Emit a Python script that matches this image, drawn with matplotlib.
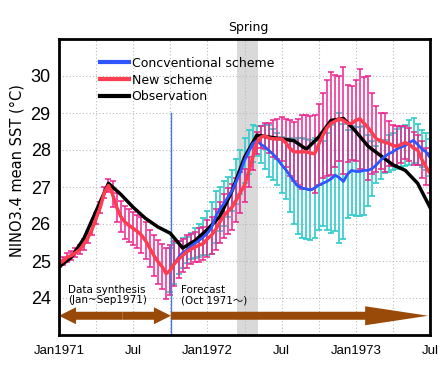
import numpy as np
import matplotlib
matplotlib.use("Agg")
import matplotlib.pyplot as plt
import matplotlib.patches as mpatches
from matplotlib.lines import Line2D

# ---------------- data ----------------
steps_per_month = 3
x_tick_labels = ["Jan1971", "Jul", "Jan1972", "Jul", "Jan1973", "Jul"]
y_ticks = [24, 25, 26, 27, 28, 29, 30]

# observation (monthly, Jan1971 .. Jul1973)
obs = [24.84, 25.10, 25.60, 26.35, 27.10, 26.80, 26.45, 26.15, 25.92, 25.75,
       25.35, 25.55, 25.85, 26.20, 26.90, 27.80, 28.40, 28.35, 28.30, 28.25,
       28.02, 28.35, 28.80, 28.85, 28.50, 28.10, 27.85, 27.60, 27.45, 27.10,
       26.45]

# new scheme (3 values per month, Jan1971 .. Jul1973)
new_mean = [24.93, 25.00, 25.10, 25.15, 25.22, 25.30, 25.45, 25.62, 25.85, 26.15,
            26.45, 26.85, 27.04, 26.80, 26.45, 26.20, 26.05, 25.96, 25.88, 25.80,
            25.70, 25.55, 25.35, 25.15, 24.98, 24.85, 24.66, 24.75, 24.93, 25.05,
            25.15, 25.25, 25.32, 25.38, 25.43, 25.47, 25.60, 25.70, 25.85, 26.05,
            26.22, 26.35, 26.46, 26.65, 26.85, 27.05, 27.40, 27.80, 28.20, 28.35,
            28.38, 28.32, 28.30, 28.30, 28.30, 28.20, 28.05, 27.95, 27.95, 27.95,
            27.95, 27.92, 27.90, 28.15, 28.40, 28.60, 28.72, 28.78, 28.84, 28.80,
            28.72, 28.72, 28.80, 28.84, 28.72, 28.60, 28.45, 28.30, 28.25, 28.21,
            28.18, 28.12, 28.10, 28.15, 28.20, 28.15, 28.05, 28.00, 27.75, 27.55,
            27.38]
new_err = [0.10, 0.10, 0.12, 0.12, 0.12, 0.12, 0.14, 0.14, 0.15, 0.15,
           0.15, 0.15, 0.18, 0.35, 0.40, 0.42, 0.45, 0.45, 0.45, 0.45,
           0.48, 0.50, 0.50, 0.55, 0.60, 0.62, 0.70, 0.68, 0.60, 0.50,
           0.45, 0.45, 0.40, 0.40, 0.45, 0.45, 0.50, 0.50, 0.55, 0.55,
           0.60, 0.62, 0.62, 0.60, 0.55, 0.45, 0.40, 0.35, 0.30, 0.30,
           0.35, 0.40, 0.50, 0.55, 0.60, 0.65, 0.75, 0.80, 0.90, 1.00,
           1.00, 1.00, 1.05, 1.10, 1.15, 1.30, 1.40, 1.25, 1.15, 1.45,
           1.05, 1.00, 1.10, 1.35, 1.25, 1.40, 1.10, 0.90, 0.75, 0.80,
           0.60, 0.55, 0.55, 0.50, 0.45, 0.45, 0.45, 0.40, 0.50, 0.50,
           0.55]

# conventional scheme (3 values per month, Oct1971 .. Jul1973)
conv_start_step = 27
conv_mean = [24.75, 24.93, 25.10, 25.22, 25.30, 25.40, 25.48, 25.56, 25.65, 25.75,
             25.90, 26.20, 26.40, 26.55, 26.73, 26.90, 27.15, 27.40, 27.72, 27.95,
             28.17, 28.25, 28.15, 28.08, 27.98, 27.88, 27.75, 27.60, 27.47, 27.32,
             27.15, 27.02, 26.97, 26.95, 26.92, 26.97, 27.05, 27.10, 27.15, 27.22,
             27.32, 27.25, 27.15, 27.35, 27.45, 27.42, 27.42, 27.45, 27.45, 27.50,
             27.60, 27.72, 27.82, 27.90, 27.95, 28.03, 28.08, 28.12, 28.20, 28.26,
             28.15, 28.03, 27.95, 27.80]
conv_err = [0.60, 0.55, 0.45, 0.40, 0.35, 0.35, 0.40, 0.45, 0.50, 0.60,
            0.70, 0.70, 0.60, 0.60, 0.55, 0.55, 0.60, 0.60, 0.60, 0.60,
            0.50, 0.40, 0.50, 0.60, 0.70, 0.70, 0.70, 0.75, 0.80, 1.00,
            1.15, 1.30, 1.35, 1.35, 1.35, 1.35, 1.20, 1.15, 1.30, 1.45,
            1.50, 1.75, 1.55, 1.20, 1.20, 1.20, 1.20, 1.20, 0.95, 0.75,
            0.50, 0.50, 0.45, 0.50, 0.50, 0.55, 0.55, 0.55, 0.60, 0.60,
            0.55, 0.50, 0.50, 0.50]

# ---------------- derived x positions (months since Jan1971) ----------------
t_new = np.arange(len(new_mean)) / steps_per_month
t_conv = (conv_start_step + np.arange(len(conv_mean))) / steps_per_month
t_obs = np.arange(len(obs))

# ---------------- styles ----------------
C_BLUE = "#2f55ff"
C_RED = "#ff3d50"
C_MAG = "#ee1e8c"
C_CYAN = "#2ecbcb"
C_BROWN = "#9a4a08"

W, H = 447, 374
fig = plt.figure(figsize=(W / 100, H / 100), dpi=100)
ax = fig.add_axes([59 / W, 1 - 335 / H, (430 - 59) / W, (335 - 39) / H])

ax.set_xlim(0, 30)
ax.set_ylim(23, 31)

# spring shading
ax.axvspan(14.4, 16.1, color="#d9d9d9", zorder=0, lw=0)

# grid
ax.set_xticks(np.arange(0, 31, 3))
ax.set_yticks(y_ticks)
ax.grid(True, color="#bbbbbb", linestyle=(0, (1, 2)), linewidth=0.8, zorder=0.5)
ax.set_xticklabels([x_tick_labels[i // 2] if i % 2 == 0 else "" for i in range(11)])
ax.tick_params(length=0, pad=7)
for lab in ax.get_xticklabels():
    lab.set_fontfamily("Liberation Sans")
    lab.set_fontsize(9.5)
for lab in ax.get_yticklabels():
    lab.set_fontfamily("Liberation Sans")
    lab.set_fontsize(13)
ax.tick_params(axis="y", pad=6)

# error bars
ax.errorbar(t_conv, conv_mean, yerr=conv_err, fmt="none", ecolor=C_CYAN,
            elinewidth=1.2, capsize=2.5, capthick=1.2, zorder=2)
ax.errorbar(t_new, new_mean, yerr=new_err, fmt="none", ecolor=C_MAG,
            elinewidth=1.2, capsize=2.5, capthick=1.2, alpha=0.9, zorder=2.5)

# lines
ax.plot(t_obs, obs, color="black", lw=2.5, zorder=4, solid_joinstyle="round")
ax.plot(t_conv, conv_mean, color=C_BLUE, lw=2.0, zorder=4.5)
ax.plot(t_new, new_mean, color=C_RED, lw=2.5, zorder=5)

# forecast start line
ax.plot([9.05, 9.05], [23, 29], color="#4a7fd0", lw=1, zorder=3)

# arrows
ypx = (335 - 39) / 8.0
xpx = (430 - 59) / 30.0
ay = 23.52
shaft = 8 / ypx
for x0, dx in [(5.15, -5.15), (5.15, 3.9)]:
    ax.add_patch(mpatches.FancyArrow(x0, ay, dx, 0, width=shaft,
                                     head_width=17 / ypx, head_length=17 / xpx,
                                     length_includes_head=True, color=C_BROWN,
                                     lw=0, zorder=3))
ax.add_patch(mpatches.FancyArrow(9.05, ay, 29.85 - 9.05, 0, width=shaft,
                                 head_width=19 / ypx, head_length=63 / xpx,
                                 length_includes_head=True, color=C_BROWN,
                                 lw=0, zorder=3))

# annotations
ax.text(0.75, 24.08, "Data synthesis\n(Jan~Sep1971)", fontsize=7.5,
        va="center", ha="left", linespacing=1.1, zorder=6)
ax.text(9.9, 24.08, "Forecast\n(Oct 1971～)", fontsize=7.5,
        va="center", ha="left", linespacing=1.1, zorder=6,
        family=["DejaVu Sans", "Noto Sans CJK JP"])

# spines
for s in ax.spines.values():
    s.set_linewidth(2)
    s.set_color("black")
    s.set_zorder(7)

# title over spring
fig.text(248 / W, 1 - 27 / H, "Spring", ha="center", va="center", fontsize=9)

# y label
fig.text(17 / W, 1 - 171 / H, "NINO3.4 mean SST (°C)", rotation=90,
         ha="center", va="center", fontsize=10.5)

# legend
handles = [Line2D([], [], color=C_BLUE, lw=3),
           Line2D([], [], color=C_RED, lw=3),
           Line2D([], [], color="black", lw=3)]
labels = ["Concventional scheme", "New scheme", "Observation"]
ax.legend(handles, labels, loc="upper left", bbox_to_anchor=(0.11, 0.94),
          frameon=False, fontsize=9, handlelength=2.3, handletextpad=0.25,
          borderpad=0, borderaxespad=0, labelspacing=0.3)

fig.savefig("out.png", dpi=100)
